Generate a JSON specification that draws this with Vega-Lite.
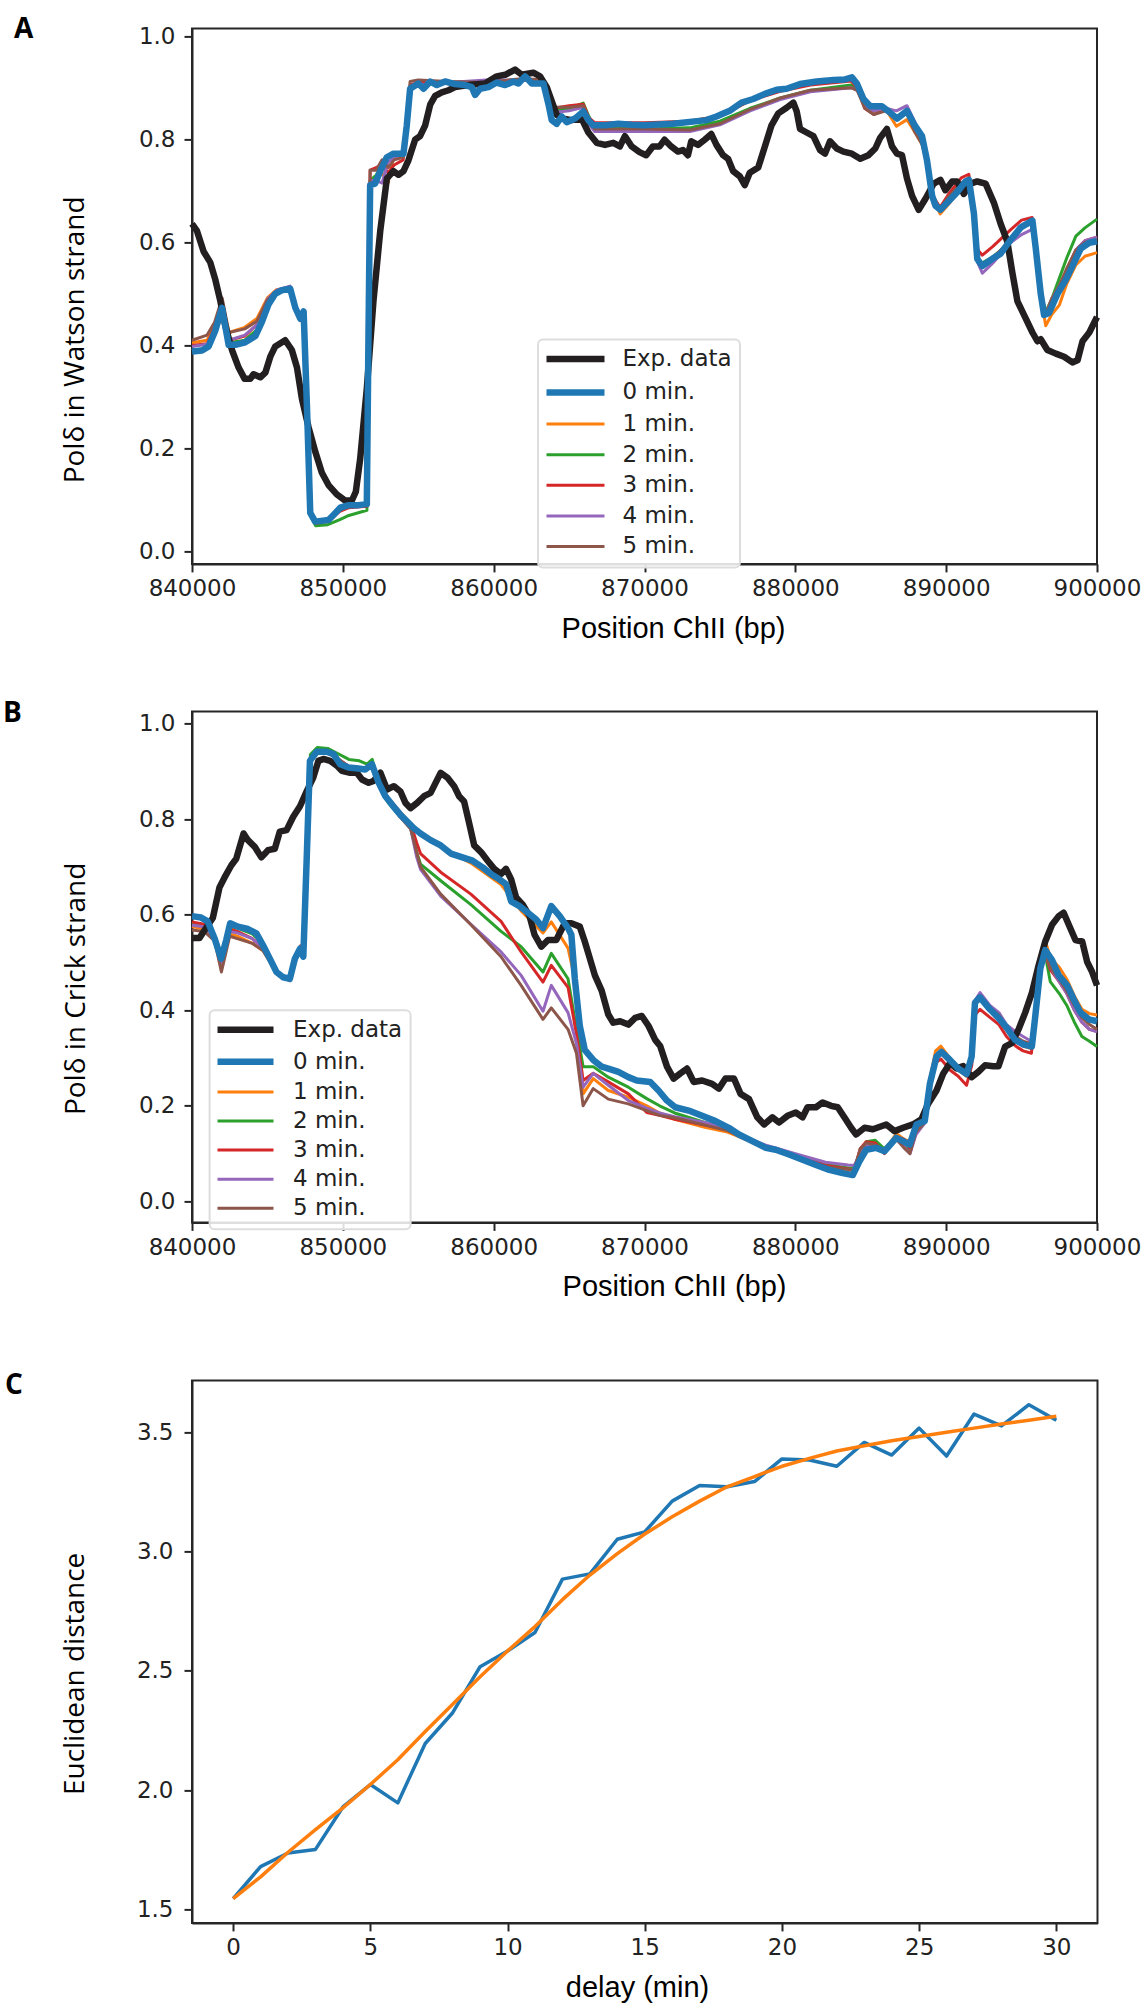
{
"$schema": "https://vega.github.io/schema/vega-lite/v6.json",
"background": "white",
"padding": {"left": 2, "top": 14.4, "right": 5, "bottom": 0},
"config": {
 "view": {"stroke": "#262626", "strokeWidth": 2},
 "axis": {"grid": false, "domainColor": "#262626", "domainWidth": 2, "tickColor": "#262626", "tickWidth": 2, "tickSize": 8, "labelFont": "DejaVu Sans", "labelFontSize": 23, "labelColor": "#222222", "labelFlush": false, "labelOverlap": false, "titleColor": "#000000", "titleFontWeight": "normal"},
 "axisX": {"labelPadding": 6, "titleFont": "Liberation Sans", "titleFontSize": 29, "titleBaseline": "alphabetic", "titleAlign": "center"},
 "axisY": {"labelPadding": 9, "titleFont": "Open Sans", "titleFontSize": 28, "titleBaseline": "middle", "titleAlign": "center", "titleAngle": 270},
 "legend": {"orient": "none", "labelFont": "DejaVu Sans", "labelFontSize": 23, "labelColor": "#222222", "symbolType": "stroke", "strokeColor": "#dddddd", "fillColor": "rgba(255,255,255,0.85)", "cornerRadius": 5, "padding": 8, "symbolOpacity": 1},
 "title": {"font": "Open Sans", "fontSize": 28, "fontWeight": "bold", "color": "#000000", "anchor": "start", "frame": "group", "offset": 0}
},
"datasets": {
"wA": [
{"series":"Exp. data","pos":840000,"val":0.636},{"series":"Exp. data","pos":840330,"val":0.622},{"series":"Exp. data","pos":840770,"val":0.582},{"series":"Exp. data","pos":841210,"val":0.561},{"series":"Exp. data","pos":841550,"val":0.527},{"series":"Exp. data","pos":841880,"val":0.486},{"series":"Exp. data","pos":842200,"val":0.439},{"series":"Exp. data","pos":842650,"val":0.391},{"series":"Exp. data","pos":843090,"val":0.357},{"series":"Exp. data","pos":843490,"val":0.335},{"series":"Exp. data","pos":843860,"val":0.335},{"series":"Exp. data","pos":844080,"val":0.344},{"series":"Exp. data","pos":844530,"val":0.338},{"series":"Exp. data","pos":844860,"val":0.347},{"series":"Exp. data","pos":845190,"val":0.378},{"series":"Exp. data","pos":845520,"val":0.398},{"series":"Exp. data","pos":846180,"val":0.41},{"series":"Exp. data","pos":846620,"val":0.391},{"series":"Exp. data","pos":846960,"val":0.357},{"series":"Exp. data","pos":847290,"val":0.296},{"series":"Exp. data","pos":847730,"val":0.241},{"series":"Exp. data","pos":848170,"val":0.194},{"series":"Exp. data","pos":848610,"val":0.153},{"series":"Exp. data","pos":849050,"val":0.129},{"series":"Exp. data","pos":849600,"val":0.111},{"series":"Exp. data","pos":850160,"val":0.099},{"series":"Exp. data","pos":850600,"val":0.099},{"series":"Exp. data","pos":850860,"val":0.116},{"series":"Exp. data","pos":851150,"val":0.18},{"series":"Exp. data","pos":851590,"val":0.316},{"series":"Exp. data","pos":852030,"val":0.486},{"series":"Exp. data","pos":852480,"val":0.622},{"series":"Exp. data","pos":852920,"val":0.724},{"series":"Exp. data","pos":853360,"val":0.738},{"series":"Exp. data","pos":853690,"val":0.731},{"series":"Exp. data","pos":854020,"val":0.738},{"series":"Exp. data","pos":854350,"val":0.759},{"series":"Exp. data","pos":854790,"val":0.799},{"series":"Exp. data","pos":855120,"val":0.806},{"series":"Exp. data","pos":855460,"val":0.827},{"series":"Exp. data","pos":855790,"val":0.867},{"series":"Exp. data","pos":856120,"val":0.884},{"series":"Exp. data","pos":856560,"val":0.891},{"series":"Exp. data","pos":857010,"val":0.895},{"series":"Exp. data","pos":857440,"val":0.901},{"series":"Exp. data","pos":858330,"val":0.905},{"series":"Exp. data","pos":859430,"val":0.908},{"series":"Exp. data","pos":860200,"val":0.922},{"series":"Exp. data","pos":860760,"val":0.925},{"series":"Exp. data","pos":861420,"val":0.935},{"series":"Exp. data","pos":861860,"val":0.925},{"series":"Exp. data","pos":862630,"val":0.929},{"series":"Exp. data","pos":863070,"val":0.922},{"series":"Exp. data","pos":863520,"val":0.901},{"series":"Exp. data","pos":863850,"val":0.874},{"series":"Exp. data","pos":864180,"val":0.847},{"series":"Exp. data","pos":864620,"val":0.84},{"series":"Exp. data","pos":865170,"val":0.837},{"series":"Exp. data","pos":865830,"val":0.84},{"series":"Exp. data","pos":866280,"val":0.813},{"series":"Exp. data","pos":866830,"val":0.793},{"series":"Exp. data","pos":867380,"val":0.789},{"series":"Exp. data","pos":867930,"val":0.793},{"series":"Exp. data","pos":868370,"val":0.786},{"series":"Exp. data","pos":868700,"val":0.806},{"series":"Exp. data","pos":869150,"val":0.786},{"series":"Exp. data","pos":869670,"val":0.775},{"series":"Exp. data","pos":870110,"val":0.769},{"series":"Exp. data","pos":870550,"val":0.786},{"series":"Exp. data","pos":871000,"val":0.786},{"series":"Exp. data","pos":871330,"val":0.799},{"series":"Exp. data","pos":871770,"val":0.786},{"series":"Exp. data","pos":872220,"val":0.776},{"series":"Exp. data","pos":872550,"val":0.779},{"series":"Exp. data","pos":872880,"val":0.769},{"series":"Exp. data","pos":873100,"val":0.796},{"series":"Exp. data","pos":873550,"val":0.789},{"series":"Exp. data","pos":873990,"val":0.799},{"series":"Exp. data","pos":874430,"val":0.81},{"series":"Exp. data","pos":874770,"val":0.789},{"series":"Exp. data","pos":875210,"val":0.769},{"series":"Exp. data","pos":875540,"val":0.762},{"series":"Exp. data","pos":875880,"val":0.738},{"series":"Exp. data","pos":876320,"val":0.728},{"series":"Exp. data","pos":876650,"val":0.711},{"series":"Exp. data","pos":876980,"val":0.735},{"series":"Exp. data","pos":877540,"val":0.745},{"series":"Exp. data","pos":877980,"val":0.786},{"series":"Exp. data","pos":878420,"val":0.827},{"series":"Exp. data","pos":878870,"val":0.85},{"series":"Exp. data","pos":879420,"val":0.861},{"series":"Exp. data","pos":879870,"val":0.871},{"series":"Exp. data","pos":880090,"val":0.854},{"series":"Exp. data","pos":880310,"val":0.82},{"series":"Exp. data","pos":880750,"val":0.813},{"series":"Exp. data","pos":881200,"val":0.806},{"series":"Exp. data","pos":881640,"val":0.779},{"series":"Exp. data","pos":881970,"val":0.772},{"series":"Exp. data","pos":882300,"val":0.796},{"series":"Exp. data","pos":882750,"val":0.782},{"series":"Exp. data","pos":883190,"val":0.776},{"series":"Exp. data","pos":883750,"val":0.772},{"series":"Exp. data","pos":884300,"val":0.762},{"series":"Exp. data","pos":884850,"val":0.769},{"series":"Exp. data","pos":885300,"val":0.782},{"series":"Exp. data","pos":885630,"val":0.803},{"series":"Exp. data","pos":886070,"val":0.82},{"series":"Exp. data","pos":886410,"val":0.786},{"series":"Exp. data","pos":886740,"val":0.772},{"series":"Exp. data","pos":887070,"val":0.769},{"series":"Exp. data","pos":887400,"val":0.724},{"series":"Exp. data","pos":887740,"val":0.69},{"series":"Exp. data","pos":888180,"val":0.663},{"series":"Exp. data","pos":888620,"val":0.684},{"series":"Exp. data","pos":889180,"val":0.714},{"series":"Exp. data","pos":889620,"val":0.721},{"series":"Exp. data","pos":889950,"val":0.701},{"series":"Exp. data","pos":890400,"val":0.718},{"series":"Exp. data","pos":890730,"val":0.718},{"series":"Exp. data","pos":891170,"val":0.694},{"series":"Exp. data","pos":891620,"val":0.714},{"series":"Exp. data","pos":892060,"val":0.718},{"series":"Exp. data","pos":892610,"val":0.714},{"series":"Exp. data","pos":893160,"val":0.677},{"series":"Exp. data","pos":893610,"val":0.636},{"series":"Exp. data","pos":894050,"val":0.602},{"series":"Exp. data","pos":894390,"val":0.541},{"series":"Exp. data","pos":894720,"val":0.486},{"series":"Exp. data","pos":895160,"val":0.459},{"series":"Exp. data","pos":895720,"val":0.425},{"series":"Exp. data","pos":896050,"val":0.408},{"series":"Exp. data","pos":896270,"val":0.412},{"series":"Exp. data","pos":896710,"val":0.391},{"series":"Exp. data","pos":897270,"val":0.384},{"series":"Exp. data","pos":897820,"val":0.378},{"series":"Exp. data","pos":898370,"val":0.367},{"series":"Exp. data","pos":898710,"val":0.371},{"series":"Exp. data","pos":899040,"val":0.408},{"series":"Exp. data","pos":899490,"val":0.425},{"series":"Exp. data","pos":900000,"val":0.455},
{"series":"0 min.","pos":840000,"val":0.388},{"series":"0 min.","pos":840660,"val":0.39},{"series":"0 min.","pos":841100,"val":0.398},{"series":"0 min.","pos":841550,"val":0.429},{"series":"0 min.","pos":841990,"val":0.473},{"series":"0 min.","pos":842430,"val":0.401},{"series":"0 min.","pos":842870,"val":0.401},{"series":"0 min.","pos":843530,"val":0.406},{"series":"0 min.","pos":844200,"val":0.418},{"series":"0 min.","pos":844640,"val":0.446},{"series":"0 min.","pos":845080,"val":0.48},{"series":"0 min.","pos":845520,"val":0.5},{"series":"0 min.","pos":845960,"val":0.507},{"series":"0 min.","pos":846510,"val":0.51},{"series":"0 min.","pos":846850,"val":0.473},{"series":"0 min.","pos":847180,"val":0.452},{"series":"0 min.","pos":847400,"val":0.466},{"series":"0 min.","pos":847620,"val":0.282},{"series":"0 min.","pos":847840,"val":0.075},{"series":"0 min.","pos":848170,"val":0.058},{"series":"0 min.","pos":849050,"val":0.061},{"series":"0 min.","pos":849380,"val":0.071},{"series":"0 min.","pos":849830,"val":0.085},{"series":"0 min.","pos":850380,"val":0.09},{"series":"0 min.","pos":851040,"val":0.09},{"series":"0 min.","pos":851590,"val":0.092},{"series":"0 min.","pos":851700,"val":0.418},{"series":"0 min.","pos":851810,"val":0.711},{"series":"0 min.","pos":852140,"val":0.714},{"series":"0 min.","pos":852480,"val":0.738},{"series":"0 min.","pos":852920,"val":0.765},{"series":"0 min.","pos":853360,"val":0.772},{"series":"0 min.","pos":854020,"val":0.772},{"series":"0 min.","pos":854240,"val":0.827},{"series":"0 min.","pos":854460,"val":0.898},{"series":"0 min.","pos":855010,"val":0.908},{"series":"0 min.","pos":855350,"val":0.898},{"series":"0 min.","pos":855790,"val":0.912},{"series":"0 min.","pos":856230,"val":0.905},{"series":"0 min.","pos":856780,"val":0.912},{"series":"0 min.","pos":857440,"val":0.907},{"series":"0 min.","pos":858100,"val":0.905},{"series":"0 min.","pos":858550,"val":0.901},{"series":"0 min.","pos":858770,"val":0.886},{"series":"0 min.","pos":859100,"val":0.898},{"series":"0 min.","pos":859650,"val":0.901},{"series":"0 min.","pos":860200,"val":0.91},{"series":"0 min.","pos":860760,"val":0.905},{"series":"0 min.","pos":861310,"val":0.912},{"series":"0 min.","pos":861640,"val":0.908},{"series":"0 min.","pos":862080,"val":0.922},{"series":"0 min.","pos":862530,"val":0.908},{"series":"0 min.","pos":862970,"val":0.908},{"series":"0 min.","pos":863300,"val":0.908},{"series":"0 min.","pos":863640,"val":0.867},{"series":"0 min.","pos":863850,"val":0.837},{"series":"0 min.","pos":864180,"val":0.83},{"series":"0 min.","pos":864510,"val":0.844},{"series":"0 min.","pos":864840,"val":0.833},{"series":"0 min.","pos":865390,"val":0.84},{"series":"0 min.","pos":865940,"val":0.854},{"series":"0 min.","pos":866280,"val":0.837},{"series":"0 min.","pos":866610,"val":0.827},{"series":"0 min.","pos":867380,"val":0.827},{"series":"0 min.","pos":868260,"val":0.83},{"series":"0 min.","pos":869150,"val":0.828},{"series":"0 min.","pos":869920,"val":0.827},{"series":"0 min.","pos":871880,"val":0.83},{"series":"0 min.","pos":874100,"val":0.837},{"series":"0 min.","pos":874770,"val":0.844},{"series":"0 min.","pos":875650,"val":0.855},{"series":"0 min.","pos":876430,"val":0.871},{"series":"0 min.","pos":877210,"val":0.878},{"series":"0 min.","pos":877980,"val":0.888},{"series":"0 min.","pos":878760,"val":0.896},{"series":"0 min.","pos":879420,"val":0.898},{"series":"0 min.","pos":880310,"val":0.907},{"series":"0 min.","pos":881420,"val":0.912},{"series":"0 min.","pos":882530,"val":0.915},{"series":"0 min.","pos":883300,"val":0.916},{"series":"0 min.","pos":883750,"val":0.92},{"series":"0 min.","pos":884080,"val":0.908},{"series":"0 min.","pos":884520,"val":0.878},{"series":"0 min.","pos":884970,"val":0.864},{"series":"0 min.","pos":885740,"val":0.864},{"series":"0 min.","pos":886180,"val":0.854},{"series":"0 min.","pos":886740,"val":0.84},{"series":"0 min.","pos":887400,"val":0.855},{"series":"0 min.","pos":887850,"val":0.83},{"series":"0 min.","pos":888400,"val":0.806},{"series":"0 min.","pos":888730,"val":0.759},{"series":"0 min.","pos":889070,"val":0.69},{"series":"0 min.","pos":889290,"val":0.671},{"series":"0 min.","pos":889620,"val":0.663},{"series":"0 min.","pos":890180,"val":0.68},{"series":"0 min.","pos":890730,"val":0.697},{"series":"0 min.","pos":891280,"val":0.718},{"series":"0 min.","pos":891510,"val":0.721},{"series":"0 min.","pos":891840,"val":0.656},{"series":"0 min.","pos":892060,"val":0.568},{"series":"0 min.","pos":892390,"val":0.554},{"series":"0 min.","pos":893060,"val":0.568},{"series":"0 min.","pos":893610,"val":0.578},{"series":"0 min.","pos":894280,"val":0.605},{"series":"0 min.","pos":894950,"val":0.629},{"series":"0 min.","pos":895720,"val":0.642},{"series":"0 min.","pos":895940,"val":0.588},{"series":"0 min.","pos":896270,"val":0.5},{"series":"0 min.","pos":896490,"val":0.459},{"series":"0 min.","pos":896820,"val":0.463},{"series":"0 min.","pos":897380,"val":0.5},{"series":"0 min.","pos":897930,"val":0.527},{"series":"0 min.","pos":898490,"val":0.561},{"series":"0 min.","pos":898930,"val":0.588},{"series":"0 min.","pos":899490,"val":0.599},{"series":"0 min.","pos":900000,"val":0.602},
{"series":"1 min.","pos":840000,"val":0.405},{"series":"1 min.","pos":841000,"val":0.41},{"series":"1 min.","pos":841500,"val":0.44},{"series":"1 min.","pos":842000,"val":0.485},{"series":"1 min.","pos":842450,"val":0.425},{"series":"1 min.","pos":843500,"val":0.435},{"series":"1 min.","pos":844300,"val":0.452},{"series":"1 min.","pos":845000,"val":0.492},{"series":"1 min.","pos":845600,"val":0.508},{"series":"1 min.","pos":846500,"val":0.513},{"series":"1 min.","pos":846850,"val":0.474},{"series":"1 min.","pos":847180,"val":0.452},{"series":"1 min.","pos":847400,"val":0.466},{"series":"1 min.","pos":847620,"val":0.28},{"series":"1 min.","pos":847840,"val":0.075},{"series":"1 min.","pos":848200,"val":0.058},{"series":"1 min.","pos":849000,"val":0.06},{"series":"1 min.","pos":849800,"val":0.082},{"series":"1 min.","pos":850400,"val":0.088},{"series":"1 min.","pos":851600,"val":0.09},{"series":"1 min.","pos":851700,"val":0.42},{"series":"1 min.","pos":851810,"val":0.715},{"series":"1 min.","pos":852200,"val":0.718},{"series":"1 min.","pos":852600,"val":0.735},{"series":"1 min.","pos":853000,"val":0.715},{"series":"1 min.","pos":853400,"val":0.77},{"series":"1 min.","pos":854000,"val":0.772},{"series":"1 min.","pos":854240,"val":0.83},{"series":"1 min.","pos":854460,"val":0.9},{"series":"1 min.","pos":855000,"val":0.91},{"series":"1 min.","pos":857000,"val":0.908},{"series":"1 min.","pos":859500,"val":0.905},{"series":"1 min.","pos":862000,"val":0.915},{"series":"1 min.","pos":863300,"val":0.91},{"series":"1 min.","pos":863640,"val":0.872},{"series":"1 min.","pos":864000,"val":0.855},{"series":"1 min.","pos":865000,"val":0.86},{"series":"1 min.","pos":865940,"val":0.865},{"series":"1 min.","pos":866300,"val":0.84},{"series":"1 min.","pos":866700,"val":0.83},{"series":"1 min.","pos":870000,"val":0.83},{"series":"1 min.","pos":873000,"val":0.835},{"series":"1 min.","pos":875000,"val":0.845},{"series":"1 min.","pos":877000,"val":0.875},{"series":"1 min.","pos":879000,"val":0.895},{"series":"1 min.","pos":881000,"val":0.908},{"series":"1 min.","pos":883700,"val":0.918},{"series":"1 min.","pos":884100,"val":0.905},{"series":"1 min.","pos":884600,"val":0.872},{"series":"1 min.","pos":885200,"val":0.86},{"series":"1 min.","pos":886000,"val":0.858},{"series":"1 min.","pos":886700,"val":0.825},{"series":"1 min.","pos":887400,"val":0.838},{"series":"1 min.","pos":887900,"val":0.815},{"series":"1 min.","pos":888400,"val":0.79},{"series":"1 min.","pos":888750,"val":0.752},{"series":"1 min.","pos":889100,"val":0.685},{"series":"1 min.","pos":889600,"val":0.655},{"series":"1 min.","pos":890200,"val":0.675},{"series":"1 min.","pos":891000,"val":0.708},{"series":"1 min.","pos":891500,"val":0.72},{"series":"1 min.","pos":891840,"val":0.655},{"series":"1 min.","pos":892100,"val":0.565},{"series":"1 min.","pos":892400,"val":0.553},{"series":"1 min.","pos":893100,"val":0.568},{"series":"1 min.","pos":894300,"val":0.605},{"series":"1 min.","pos":895000,"val":0.632},{"series":"1 min.","pos":895700,"val":0.64},{"series":"1 min.","pos":895950,"val":0.585},{"series":"1 min.","pos":896300,"val":0.49},{"series":"1 min.","pos":896600,"val":0.438},{"series":"1 min.","pos":897000,"val":0.46},{"series":"1 min.","pos":897500,"val":0.478},{"series":"1 min.","pos":898000,"val":0.52},{"series":"1 min.","pos":898600,"val":0.556},{"series":"1 min.","pos":899200,"val":0.573},{"series":"1 min.","pos":900000,"val":0.58},
{"series":"2 min.","pos":840000,"val":0.39},{"series":"2 min.","pos":841000,"val":0.395},{"series":"2 min.","pos":841500,"val":0.43},{"series":"2 min.","pos":842000,"val":0.478},{"series":"2 min.","pos":842450,"val":0.405},{"series":"2 min.","pos":843500,"val":0.41},{"series":"2 min.","pos":844300,"val":0.43},{"series":"2 min.","pos":845000,"val":0.485},{"series":"2 min.","pos":845600,"val":0.503},{"series":"2 min.","pos":846500,"val":0.512},{"series":"2 min.","pos":846850,"val":0.473},{"series":"2 min.","pos":847180,"val":0.452},{"series":"2 min.","pos":847400,"val":0.466},{"series":"2 min.","pos":847620,"val":0.28},{"series":"2 min.","pos":847840,"val":0.07},{"series":"2 min.","pos":848200,"val":0.05},{"series":"2 min.","pos":849000,"val":0.052},{"series":"2 min.","pos":849800,"val":0.062},{"series":"2 min.","pos":850400,"val":0.07},{"series":"2 min.","pos":851600,"val":0.08},{"series":"2 min.","pos":851700,"val":0.42},{"series":"2 min.","pos":851810,"val":0.72},{"series":"2 min.","pos":852200,"val":0.73},{"series":"2 min.","pos":852600,"val":0.75},{"series":"2 min.","pos":853000,"val":0.765},{"series":"2 min.","pos":853400,"val":0.77},{"series":"2 min.","pos":854000,"val":0.772},{"series":"2 min.","pos":854240,"val":0.83},{"series":"2 min.","pos":854460,"val":0.9},{"series":"2 min.","pos":855000,"val":0.91},{"series":"2 min.","pos":857000,"val":0.91},{"series":"2 min.","pos":859500,"val":0.912},{"series":"2 min.","pos":862000,"val":0.915},{"series":"2 min.","pos":863300,"val":0.91},{"series":"2 min.","pos":863640,"val":0.872},{"series":"2 min.","pos":864000,"val":0.855},{"series":"2 min.","pos":865000,"val":0.86},{"series":"2 min.","pos":865940,"val":0.87},{"series":"2 min.","pos":866300,"val":0.845},{"series":"2 min.","pos":866700,"val":0.822},{"series":"2 min.","pos":870000,"val":0.82},{"series":"2 min.","pos":873000,"val":0.822},{"series":"2 min.","pos":875000,"val":0.835},{"series":"2 min.","pos":877000,"val":0.86},{"series":"2 min.","pos":879000,"val":0.88},{"series":"2 min.","pos":881000,"val":0.895},{"series":"2 min.","pos":883700,"val":0.905},{"series":"2 min.","pos":884100,"val":0.9},{"series":"2 min.","pos":884600,"val":0.865},{"series":"2 min.","pos":885200,"val":0.855},{"series":"2 min.","pos":886000,"val":0.86},{"series":"2 min.","pos":886700,"val":0.84},{"series":"2 min.","pos":887400,"val":0.858},{"series":"2 min.","pos":887900,"val":0.83},{"series":"2 min.","pos":888400,"val":0.8},{"series":"2 min.","pos":888750,"val":0.765},{"series":"2 min.","pos":889100,"val":0.69},{"series":"2 min.","pos":889600,"val":0.665},{"series":"2 min.","pos":890200,"val":0.685},{"series":"2 min.","pos":891000,"val":0.71},{"series":"2 min.","pos":891500,"val":0.725},{"series":"2 min.","pos":891840,"val":0.66},{"series":"2 min.","pos":892100,"val":0.565},{"series":"2 min.","pos":892400,"val":0.56},{"series":"2 min.","pos":893100,"val":0.572},{"series":"2 min.","pos":894300,"val":0.6},{"series":"2 min.","pos":895000,"val":0.63},{"series":"2 min.","pos":895700,"val":0.64},{"series":"2 min.","pos":895950,"val":0.585},{"series":"2 min.","pos":896300,"val":0.5},{"series":"2 min.","pos":896600,"val":0.465},{"series":"2 min.","pos":897000,"val":0.49},{"series":"2 min.","pos":897500,"val":0.53},{"series":"2 min.","pos":898000,"val":0.57},{"series":"2 min.","pos":898600,"val":0.612},{"series":"2 min.","pos":899200,"val":0.628},{"series":"2 min.","pos":900000,"val":0.645},
{"series":"3 min.","pos":840000,"val":0.4},{"series":"3 min.","pos":841000,"val":0.403},{"series":"3 min.","pos":841500,"val":0.435},{"series":"3 min.","pos":842000,"val":0.48},{"series":"3 min.","pos":842450,"val":0.41},{"series":"3 min.","pos":843500,"val":0.418},{"series":"3 min.","pos":844300,"val":0.44},{"series":"3 min.","pos":845000,"val":0.488},{"series":"3 min.","pos":845600,"val":0.505},{"series":"3 min.","pos":846500,"val":0.512},{"series":"3 min.","pos":846850,"val":0.47},{"series":"3 min.","pos":847180,"val":0.448},{"series":"3 min.","pos":847400,"val":0.462},{"series":"3 min.","pos":847620,"val":0.28},{"series":"3 min.","pos":847840,"val":0.072},{"series":"3 min.","pos":848200,"val":0.055},{"series":"3 min.","pos":849000,"val":0.058},{"series":"3 min.","pos":849800,"val":0.078},{"series":"3 min.","pos":850400,"val":0.085},{"series":"3 min.","pos":851600,"val":0.088},{"series":"3 min.","pos":851700,"val":0.42},{"series":"3 min.","pos":851810,"val":0.74},{"series":"3 min.","pos":852200,"val":0.745},{"series":"3 min.","pos":852600,"val":0.75},{"series":"3 min.","pos":853000,"val":0.735},{"series":"3 min.","pos":853400,"val":0.75},{"series":"3 min.","pos":854000,"val":0.76},{"series":"3 min.","pos":854240,"val":0.83},{"series":"3 min.","pos":854460,"val":0.905},{"series":"3 min.","pos":855000,"val":0.91},{"series":"3 min.","pos":857000,"val":0.91},{"series":"3 min.","pos":859500,"val":0.905},{"series":"3 min.","pos":862000,"val":0.915},{"series":"3 min.","pos":863300,"val":0.91},{"series":"3 min.","pos":863640,"val":0.872},{"series":"3 min.","pos":864000,"val":0.86},{"series":"3 min.","pos":865000,"val":0.865},{"series":"3 min.","pos":865940,"val":0.868},{"series":"3 min.","pos":866300,"val":0.842},{"series":"3 min.","pos":866700,"val":0.832},{"series":"3 min.","pos":870000,"val":0.832},{"series":"3 min.","pos":873000,"val":0.835},{"series":"3 min.","pos":875000,"val":0.845},{"series":"3 min.","pos":877000,"val":0.875},{"series":"3 min.","pos":879000,"val":0.893},{"series":"3 min.","pos":881000,"val":0.905},{"series":"3 min.","pos":883700,"val":0.913},{"series":"3 min.","pos":884100,"val":0.9},{"series":"3 min.","pos":884600,"val":0.86},{"series":"3 min.","pos":885200,"val":0.848},{"series":"3 min.","pos":886000,"val":0.858},{"series":"3 min.","pos":886700,"val":0.84},{"series":"3 min.","pos":887400,"val":0.858},{"series":"3 min.","pos":887900,"val":0.83},{"series":"3 min.","pos":888400,"val":0.8},{"series":"3 min.","pos":888750,"val":0.755},{"series":"3 min.","pos":889100,"val":0.69},{"series":"3 min.","pos":889600,"val":0.668},{"series":"3 min.","pos":890200,"val":0.695},{"series":"3 min.","pos":891000,"val":0.725},{"series":"3 min.","pos":891500,"val":0.732},{"series":"3 min.","pos":891840,"val":0.665},{"series":"3 min.","pos":892100,"val":0.585},{"series":"3 min.","pos":892400,"val":0.575},{"series":"3 min.","pos":893100,"val":0.592},{"series":"3 min.","pos":894300,"val":0.625},{"series":"3 min.","pos":895000,"val":0.643},{"series":"3 min.","pos":895700,"val":0.648},{"series":"3 min.","pos":895950,"val":0.59},{"series":"3 min.","pos":896300,"val":0.5},{"series":"3 min.","pos":896600,"val":0.458},{"series":"3 min.","pos":897000,"val":0.49},{"series":"3 min.","pos":897500,"val":0.515},{"series":"3 min.","pos":898000,"val":0.545},{"series":"3 min.","pos":898600,"val":0.585},{"series":"3 min.","pos":899200,"val":0.603},{"series":"3 min.","pos":900000,"val":0.61},
{"series":"4 min.","pos":840000,"val":0.398},{"series":"4 min.","pos":841000,"val":0.402},{"series":"4 min.","pos":841500,"val":0.43},{"series":"4 min.","pos":842000,"val":0.475},{"series":"4 min.","pos":842450,"val":0.41},{"series":"4 min.","pos":843500,"val":0.42},{"series":"4 min.","pos":844300,"val":0.44},{"series":"4 min.","pos":845000,"val":0.49},{"series":"4 min.","pos":845600,"val":0.507},{"series":"4 min.","pos":846500,"val":0.515},{"series":"4 min.","pos":846850,"val":0.473},{"series":"4 min.","pos":847180,"val":0.452},{"series":"4 min.","pos":847400,"val":0.466},{"series":"4 min.","pos":847620,"val":0.28},{"series":"4 min.","pos":847840,"val":0.075},{"series":"4 min.","pos":848200,"val":0.058},{"series":"4 min.","pos":849000,"val":0.06},{"series":"4 min.","pos":849800,"val":0.082},{"series":"4 min.","pos":850400,"val":0.088},{"series":"4 min.","pos":851600,"val":0.09},{"series":"4 min.","pos":851700,"val":0.42},{"series":"4 min.","pos":851810,"val":0.72},{"series":"4 min.","pos":852200,"val":0.72},{"series":"4 min.","pos":852600,"val":0.715},{"series":"4 min.","pos":853000,"val":0.755},{"series":"4 min.","pos":853400,"val":0.765},{"series":"4 min.","pos":854000,"val":0.77},{"series":"4 min.","pos":854240,"val":0.83},{"series":"4 min.","pos":854460,"val":0.9},{"series":"4 min.","pos":855000,"val":0.905},{"series":"4 min.","pos":857000,"val":0.91},{"series":"4 min.","pos":859500,"val":0.915},{"series":"4 min.","pos":862000,"val":0.915},{"series":"4 min.","pos":863300,"val":0.915},{"series":"4 min.","pos":863640,"val":0.87},{"series":"4 min.","pos":864000,"val":0.852},{"series":"4 min.","pos":865000,"val":0.855},{"series":"4 min.","pos":865940,"val":0.862},{"series":"4 min.","pos":866300,"val":0.83},{"series":"4 min.","pos":866700,"val":0.815},{"series":"4 min.","pos":870000,"val":0.815},{"series":"4 min.","pos":873000,"val":0.815},{"series":"4 min.","pos":875000,"val":0.828},{"series":"4 min.","pos":877000,"val":0.855},{"series":"4 min.","pos":879000,"val":0.877},{"series":"4 min.","pos":881000,"val":0.892},{"series":"4 min.","pos":883700,"val":0.9},{"series":"4 min.","pos":884100,"val":0.895},{"series":"4 min.","pos":884600,"val":0.865},{"series":"4 min.","pos":885200,"val":0.855},{"series":"4 min.","pos":886000,"val":0.86},{"series":"4 min.","pos":886700,"val":0.855},{"series":"4 min.","pos":887400,"val":0.865},{"series":"4 min.","pos":887900,"val":0.835},{"series":"4 min.","pos":888400,"val":0.8},{"series":"4 min.","pos":888750,"val":0.765},{"series":"4 min.","pos":889100,"val":0.69},{"series":"4 min.","pos":889600,"val":0.665},{"series":"4 min.","pos":890200,"val":0.685},{"series":"4 min.","pos":891000,"val":0.71},{"series":"4 min.","pos":891500,"val":0.72},{"series":"4 min.","pos":891840,"val":0.655},{"series":"4 min.","pos":892100,"val":0.56},{"series":"4 min.","pos":892400,"val":0.54},{"series":"4 min.","pos":893100,"val":0.56},{"series":"4 min.","pos":894300,"val":0.6},{"series":"4 min.","pos":895000,"val":0.615},{"series":"4 min.","pos":895700,"val":0.625},{"series":"4 min.","pos":895950,"val":0.585},{"series":"4 min.","pos":896300,"val":0.5},{"series":"4 min.","pos":896600,"val":0.46},{"series":"4 min.","pos":897000,"val":0.49},{"series":"4 min.","pos":897500,"val":0.515},{"series":"4 min.","pos":898000,"val":0.545},{"series":"4 min.","pos":898600,"val":0.585},{"series":"4 min.","pos":899200,"val":0.603},{"series":"4 min.","pos":900000,"val":0.61},
{"series":"5 min.","pos":840000,"val":0.41},{"series":"5 min.","pos":841000,"val":0.42},{"series":"5 min.","pos":841500,"val":0.445},{"series":"5 min.","pos":842000,"val":0.492},{"series":"5 min.","pos":842450,"val":0.425},{"series":"5 min.","pos":843500,"val":0.432},{"series":"5 min.","pos":844300,"val":0.447},{"series":"5 min.","pos":845000,"val":0.488},{"series":"5 min.","pos":845600,"val":0.505},{"series":"5 min.","pos":846500,"val":0.512},{"series":"5 min.","pos":846850,"val":0.473},{"series":"5 min.","pos":847180,"val":0.452},{"series":"5 min.","pos":847400,"val":0.466},{"series":"5 min.","pos":847620,"val":0.28},{"series":"5 min.","pos":847840,"val":0.075},{"series":"5 min.","pos":848200,"val":0.058},{"series":"5 min.","pos":849000,"val":0.06},{"series":"5 min.","pos":849800,"val":0.08},{"series":"5 min.","pos":850400,"val":0.088},{"series":"5 min.","pos":851600,"val":0.09},{"series":"5 min.","pos":851700,"val":0.42},{"series":"5 min.","pos":851810,"val":0.74},{"series":"5 min.","pos":852200,"val":0.74},{"series":"5 min.","pos":852600,"val":0.76},{"series":"5 min.","pos":853000,"val":0.745},{"series":"5 min.","pos":853400,"val":0.76},{"series":"5 min.","pos":854000,"val":0.765},{"series":"5 min.","pos":854240,"val":0.83},{"series":"5 min.","pos":854460,"val":0.912},{"series":"5 min.","pos":855000,"val":0.915},{"series":"5 min.","pos":857000,"val":0.912},{"series":"5 min.","pos":859500,"val":0.91},{"series":"5 min.","pos":862000,"val":0.918},{"series":"5 min.","pos":863300,"val":0.915},{"series":"5 min.","pos":863640,"val":0.875},{"series":"5 min.","pos":864000,"val":0.862},{"series":"5 min.","pos":865000,"val":0.862},{"series":"5 min.","pos":865940,"val":0.865},{"series":"5 min.","pos":866300,"val":0.835},{"series":"5 min.","pos":866700,"val":0.82},{"series":"5 min.","pos":870000,"val":0.82},{"series":"5 min.","pos":873000,"val":0.818},{"series":"5 min.","pos":875000,"val":0.83},{"series":"5 min.","pos":877000,"val":0.858},{"series":"5 min.","pos":879000,"val":0.88},{"series":"5 min.","pos":881000,"val":0.895},{"series":"5 min.","pos":883700,"val":0.9},{"series":"5 min.","pos":884100,"val":0.895},{"series":"5 min.","pos":884600,"val":0.86},{"series":"5 min.","pos":885200,"val":0.848},{"series":"5 min.","pos":886000,"val":0.855},{"series":"5 min.","pos":886700,"val":0.84},{"series":"5 min.","pos":887400,"val":0.85},{"series":"5 min.","pos":887900,"val":0.815},{"series":"5 min.","pos":888400,"val":0.79},{"series":"5 min.","pos":888750,"val":0.76},{"series":"5 min.","pos":889100,"val":0.69},{"series":"5 min.","pos":889600,"val":0.665},{"series":"5 min.","pos":890200,"val":0.69},{"series":"5 min.","pos":891000,"val":0.715},{"series":"5 min.","pos":891500,"val":0.725},{"series":"5 min.","pos":891840,"val":0.66},{"series":"5 min.","pos":892100,"val":0.568},{"series":"5 min.","pos":892400,"val":0.555},{"series":"5 min.","pos":893100,"val":0.57},{"series":"5 min.","pos":894300,"val":0.605},{"series":"5 min.","pos":895000,"val":0.63},{"series":"5 min.","pos":895700,"val":0.64},{"series":"5 min.","pos":895950,"val":0.585},{"series":"5 min.","pos":896300,"val":0.5},{"series":"5 min.","pos":896600,"val":0.46},{"series":"5 min.","pos":897000,"val":0.49},{"series":"5 min.","pos":897500,"val":0.515},{"series":"5 min.","pos":898000,"val":0.55},{"series":"5 min.","pos":898600,"val":0.585},{"series":"5 min.","pos":899200,"val":0.6},{"series":"5 min.","pos":900000,"val":0.605}
],
"cB": [
{"series":"Exp. data","pos":840000,"val":0.551},{"series":"Exp. data","pos":840490,"val":0.551},{"series":"Exp. data","pos":840930,"val":0.572},{"series":"Exp. data","pos":841380,"val":0.593},{"series":"Exp. data","pos":841820,"val":0.657},{"series":"Exp. data","pos":842160,"val":0.678},{"series":"Exp. data","pos":842600,"val":0.703},{"series":"Exp. data","pos":842930,"val":0.717},{"series":"Exp. data","pos":843420,"val":0.77},{"series":"Exp. data","pos":843710,"val":0.756},{"series":"Exp. data","pos":844160,"val":0.742},{"series":"Exp. data","pos":844600,"val":0.72},{"series":"Exp. data","pos":845040,"val":0.735},{"series":"Exp. data","pos":845490,"val":0.738},{"series":"Exp. data","pos":845820,"val":0.774},{"series":"Exp. data","pos":846270,"val":0.777},{"series":"Exp. data","pos":846710,"val":0.805},{"series":"Exp. data","pos":847160,"val":0.827},{"series":"Exp. data","pos":847600,"val":0.858},{"series":"Exp. data","pos":848040,"val":0.887},{"series":"Exp. data","pos":848380,"val":0.922},{"series":"Exp. data","pos":848710,"val":0.926},{"series":"Exp. data","pos":849160,"val":0.922},{"series":"Exp. data","pos":849600,"val":0.912},{"series":"Exp. data","pos":849930,"val":0.901},{"series":"Exp. data","pos":850490,"val":0.897},{"series":"Exp. data","pos":850930,"val":0.897},{"series":"Exp. data","pos":851270,"val":0.883},{"series":"Exp. data","pos":851710,"val":0.876},{"series":"Exp. data","pos":852040,"val":0.88},{"series":"Exp. data","pos":852490,"val":0.897},{"series":"Exp. data","pos":852930,"val":0.862},{"series":"Exp. data","pos":853380,"val":0.869},{"series":"Exp. data","pos":853820,"val":0.858},{"series":"Exp. data","pos":854150,"val":0.834},{"series":"Exp. data","pos":854490,"val":0.823},{"series":"Exp. data","pos":854930,"val":0.834},{"series":"Exp. data","pos":855380,"val":0.848},{"series":"Exp. data","pos":855820,"val":0.855},{"series":"Exp. data","pos":856150,"val":0.876},{"series":"Exp. data","pos":856490,"val":0.897},{"series":"Exp. data","pos":856930,"val":0.887},{"series":"Exp. data","pos":857380,"val":0.869},{"series":"Exp. data","pos":857710,"val":0.848},{"series":"Exp. data","pos":858040,"val":0.837},{"series":"Exp. data","pos":858380,"val":0.791},{"series":"Exp. data","pos":858710,"val":0.745},{"series":"Exp. data","pos":859160,"val":0.731},{"series":"Exp. data","pos":859600,"val":0.713},{"series":"Exp. data","pos":860040,"val":0.696},{"series":"Exp. data","pos":860490,"val":0.685},{"series":"Exp. data","pos":860820,"val":0.696},{"series":"Exp. data","pos":861160,"val":0.674},{"series":"Exp. data","pos":861490,"val":0.636},{"series":"Exp. data","pos":861930,"val":0.621},{"series":"Exp. data","pos":862380,"val":0.597},{"series":"Exp. data","pos":862710,"val":0.558},{"series":"Exp. data","pos":863160,"val":0.533},{"series":"Exp. data","pos":863600,"val":0.547},{"series":"Exp. data","pos":864150,"val":0.547},{"series":"Exp. data","pos":864710,"val":0.582},{"series":"Exp. data","pos":865150,"val":0.582},{"series":"Exp. data","pos":865710,"val":0.575},{"series":"Exp. data","pos":866040,"val":0.544},{"series":"Exp. data","pos":866380,"val":0.508},{"series":"Exp. data","pos":866710,"val":0.473},{"series":"Exp. data","pos":867160,"val":0.441},{"series":"Exp. data","pos":867600,"val":0.391},{"series":"Exp. data","pos":867930,"val":0.374},{"series":"Exp. data","pos":868380,"val":0.377},{"series":"Exp. data","pos":868930,"val":0.37},{"series":"Exp. data","pos":869380,"val":0.384},{"series":"Exp. data","pos":869820,"val":0.388},{"series":"Exp. data","pos":870270,"val":0.367},{"series":"Exp. data","pos":870710,"val":0.338},{"series":"Exp. data","pos":871040,"val":0.325},{"series":"Exp. data","pos":871490,"val":0.282},{"series":"Exp. data","pos":871930,"val":0.257},{"series":"Exp. data","pos":872380,"val":0.268},{"series":"Exp. data","pos":872820,"val":0.278},{"series":"Exp. data","pos":873260,"val":0.25},{"series":"Exp. data","pos":873820,"val":0.253},{"series":"Exp. data","pos":874480,"val":0.246},{"series":"Exp. data","pos":874930,"val":0.236},{"series":"Exp. data","pos":875370,"val":0.257},{"series":"Exp. data","pos":875930,"val":0.257},{"series":"Exp. data","pos":876370,"val":0.225},{"series":"Exp. data","pos":876930,"val":0.214},{"series":"Exp. data","pos":877480,"val":0.176},{"series":"Exp. data","pos":877930,"val":0.161},{"series":"Exp. data","pos":878480,"val":0.176},{"series":"Exp. data","pos":878920,"val":0.165},{"series":"Exp. data","pos":879480,"val":0.179},{"series":"Exp. data","pos":880030,"val":0.186},{"series":"Exp. data","pos":880480,"val":0.176},{"series":"Exp. data","pos":880810,"val":0.197},{"series":"Exp. data","pos":881370,"val":0.197},{"series":"Exp. data","pos":881810,"val":0.207},{"series":"Exp. data","pos":882370,"val":0.2},{"series":"Exp. data","pos":882810,"val":0.197},{"series":"Exp. data","pos":883250,"val":0.176},{"series":"Exp. data","pos":883700,"val":0.154},{"series":"Exp. data","pos":884030,"val":0.14},{"series":"Exp. data","pos":884590,"val":0.154},{"series":"Exp. data","pos":885140,"val":0.151},{"series":"Exp. data","pos":886030,"val":0.161},{"series":"Exp. data","pos":886580,"val":0.147},{"series":"Exp. data","pos":887140,"val":0.154},{"series":"Exp. data","pos":887800,"val":0.161},{"series":"Exp. data","pos":888360,"val":0.172},{"series":"Exp. data","pos":888800,"val":0.204},{"series":"Exp. data","pos":889360,"val":0.232},{"series":"Exp. data","pos":889800,"val":0.267},{"series":"Exp. data","pos":890250,"val":0.289},{"series":"Exp. data","pos":890690,"val":0.278},{"series":"Exp. data","pos":891130,"val":0.283},{"series":"Exp. data","pos":891690,"val":0.26},{"series":"Exp. data","pos":892130,"val":0.271},{"series":"Exp. data","pos":892580,"val":0.285},{"series":"Exp. data","pos":893130,"val":0.283},{"series":"Exp. data","pos":893470,"val":0.283},{"series":"Exp. data","pos":893910,"val":0.324},{"series":"Exp. data","pos":894350,"val":0.331},{"series":"Exp. data","pos":894800,"val":0.36},{"series":"Exp. data","pos":895240,"val":0.395},{"series":"Exp. data","pos":895690,"val":0.437},{"series":"Exp. data","pos":896130,"val":0.494},{"series":"Exp. data","pos":896570,"val":0.544},{"series":"Exp. data","pos":897020,"val":0.579},{"series":"Exp. data","pos":897460,"val":0.597},{"series":"Exp. data","pos":897790,"val":0.604},{"series":"Exp. data","pos":898130,"val":0.579},{"series":"Exp. data","pos":898570,"val":0.547},{"series":"Exp. data","pos":899020,"val":0.544},{"series":"Exp. data","pos":899350,"val":0.501},{"series":"Exp. data","pos":899680,"val":0.48},{"series":"Exp. data","pos":900000,"val":0.452},
{"series":"0 min.","pos":840000,"val":0.597},{"series":"0 min.","pos":840600,"val":0.594},{"series":"0 min.","pos":841040,"val":0.586},{"series":"0 min.","pos":841490,"val":0.551},{"series":"0 min.","pos":841930,"val":0.508},{"series":"0 min.","pos":842270,"val":0.547},{"series":"0 min.","pos":842530,"val":0.582},{"series":"0 min.","pos":843040,"val":0.575},{"series":"0 min.","pos":843710,"val":0.57},{"series":"0 min.","pos":844270,"val":0.561},{"series":"0 min.","pos":844710,"val":0.536},{"series":"0 min.","pos":845160,"val":0.508},{"series":"0 min.","pos":845600,"val":0.48},{"series":"0 min.","pos":846040,"val":0.469},{"series":"0 min.","pos":846490,"val":0.466},{"series":"0 min.","pos":846820,"val":0.508},{"series":"0 min.","pos":847160,"val":0.529},{"series":"0 min.","pos":847380,"val":0.512},{"series":"0 min.","pos":847600,"val":0.713},{"series":"0 min.","pos":847820,"val":0.922},{"series":"0 min.","pos":848270,"val":0.941},{"series":"0 min.","pos":848930,"val":0.941},{"series":"0 min.","pos":849380,"val":0.936},{"series":"0 min.","pos":849820,"val":0.915},{"series":"0 min.","pos":850380,"val":0.908},{"series":"0 min.","pos":851040,"val":0.906},{"series":"0 min.","pos":851490,"val":0.904},{"series":"0 min.","pos":851930,"val":0.915},{"series":"0 min.","pos":852380,"val":0.876},{"series":"0 min.","pos":852820,"val":0.848},{"series":"0 min.","pos":853270,"val":0.83},{"series":"0 min.","pos":853820,"val":0.809},{"series":"0 min.","pos":854270,"val":0.795},{"series":"0 min.","pos":854710,"val":0.781},{"series":"0 min.","pos":855150,"val":0.77},{"series":"0 min.","pos":855820,"val":0.756},{"series":"0 min.","pos":856490,"val":0.745},{"series":"0 min.","pos":857160,"val":0.728},{"series":"0 min.","pos":857930,"val":0.72},{"series":"0 min.","pos":858600,"val":0.713},{"series":"0 min.","pos":859270,"val":0.699},{"series":"0 min.","pos":859820,"val":0.685},{"series":"0 min.","pos":860380,"val":0.674},{"series":"0 min.","pos":860820,"val":0.664},{"series":"0 min.","pos":861160,"val":0.628},{"series":"0 min.","pos":861710,"val":0.618},{"series":"0 min.","pos":862270,"val":0.604},{"series":"0 min.","pos":862820,"val":0.59},{"series":"0 min.","pos":863270,"val":0.572},{"series":"0 min.","pos":863820,"val":0.618},{"series":"0 min.","pos":864380,"val":0.597},{"series":"0 min.","pos":864930,"val":0.572},{"series":"0 min.","pos":865150,"val":0.558},{"series":"0 min.","pos":865380,"val":0.466},{"series":"0 min.","pos":865710,"val":0.367},{"series":"0 min.","pos":866040,"val":0.317},{"series":"0 min.","pos":866600,"val":0.296},{"series":"0 min.","pos":867160,"val":0.282},{"series":"0 min.","pos":867600,"val":0.278},{"series":"0 min.","pos":868270,"val":0.271},{"series":"0 min.","pos":868930,"val":0.26},{"series":"0 min.","pos":869490,"val":0.253},{"series":"0 min.","pos":870380,"val":0.25},{"series":"0 min.","pos":870930,"val":0.232},{"series":"0 min.","pos":871490,"val":0.211},{"series":"0 min.","pos":872040,"val":0.197},{"series":"0 min.","pos":872930,"val":0.19},{"series":"0 min.","pos":873820,"val":0.179},{"series":"0 min.","pos":874710,"val":0.168},{"series":"0 min.","pos":875590,"val":0.154},{"series":"0 min.","pos":876260,"val":0.14},{"series":"0 min.","pos":877150,"val":0.126},{"series":"0 min.","pos":878040,"val":0.112},{"series":"0 min.","pos":878700,"val":0.108},{"series":"0 min.","pos":879590,"val":0.098},{"series":"0 min.","pos":880480,"val":0.087},{"series":"0 min.","pos":881370,"val":0.076},{"series":"0 min.","pos":882250,"val":0.066},{"series":"0 min.","pos":883140,"val":0.059},{"series":"0 min.","pos":883810,"val":0.055},{"series":"0 min.","pos":884250,"val":0.084},{"series":"0 min.","pos":884700,"val":0.108},{"series":"0 min.","pos":885360,"val":0.112},{"series":"0 min.","pos":885920,"val":0.105},{"series":"0 min.","pos":886690,"val":0.133},{"series":"0 min.","pos":887140,"val":0.126},{"series":"0 min.","pos":887580,"val":0.119},{"series":"0 min.","pos":888030,"val":0.161},{"series":"0 min.","pos":888580,"val":0.168},{"series":"0 min.","pos":888920,"val":0.246},{"series":"0 min.","pos":889360,"val":0.303},{"series":"0 min.","pos":889690,"val":0.313},{"series":"0 min.","pos":890250,"val":0.296},{"series":"0 min.","pos":890800,"val":0.278},{"series":"0 min.","pos":891360,"val":0.267},{"series":"0 min.","pos":891690,"val":0.303},{"series":"0 min.","pos":891910,"val":0.416},{"series":"0 min.","pos":892240,"val":0.427},{"series":"0 min.","pos":892900,"val":0.402},{"series":"0 min.","pos":893470,"val":0.384},{"series":"0 min.","pos":894020,"val":0.363},{"series":"0 min.","pos":894570,"val":0.338},{"series":"0 min.","pos":895130,"val":0.328},{"series":"0 min.","pos":895680,"val":0.324},{"series":"0 min.","pos":895910,"val":0.388},{"series":"0 min.","pos":896240,"val":0.487},{"series":"0 min.","pos":896570,"val":0.526},{"series":"0 min.","pos":897020,"val":0.505},{"series":"0 min.","pos":897460,"val":0.473},{"series":"0 min.","pos":898020,"val":0.452},{"series":"0 min.","pos":898460,"val":0.423},{"series":"0 min.","pos":898910,"val":0.395},{"series":"0 min.","pos":899460,"val":0.381},{"series":"0 min.","pos":900000,"val":0.377},
{"series":"1 min.","pos":840000,"val":0.575},{"series":"1 min.","pos":840800,"val":0.57},{"series":"1 min.","pos":841500,"val":0.55},{"series":"1 min.","pos":841950,"val":0.495},{"series":"1 min.","pos":842500,"val":0.56},{"series":"1 min.","pos":843000,"val":0.555},{"series":"1 min.","pos":844000,"val":0.54},{"series":"1 min.","pos":844700,"val":0.525},{"series":"1 min.","pos":845200,"val":0.5},{"series":"1 min.","pos":845700,"val":0.475},{"series":"1 min.","pos":846500,"val":0.465},{"series":"1 min.","pos":846850,"val":0.505},{"series":"1 min.","pos":847200,"val":0.528},{"series":"1 min.","pos":847400,"val":0.515},{"series":"1 min.","pos":847600,"val":0.72},{"series":"1 min.","pos":847850,"val":0.925},{"series":"1 min.","pos":848300,"val":0.94},{"series":"1 min.","pos":849000,"val":0.94},{"series":"1 min.","pos":849500,"val":0.93},{"series":"1 min.","pos":850400,"val":0.91},{"series":"1 min.","pos":851100,"val":0.907},{"series":"1 min.","pos":851600,"val":0.905},{"series":"1 min.","pos":851950,"val":0.915},{"series":"1 min.","pos":852400,"val":0.875},{"series":"1 min.","pos":853000,"val":0.84},{"series":"1 min.","pos":853800,"val":0.81},{"series":"1 min.","pos":854500,"val":0.785},{"series":"1 min.","pos":854900,"val":0.775},{"series":"1 min.","pos":855150,"val":0.768},{"series":"1 min.","pos":856490,"val":0.742},{"series":"1 min.","pos":858490,"val":0.708},{"series":"1 min.","pos":860490,"val":0.663},{"series":"1 min.","pos":861820,"val":0.608},{"series":"1 min.","pos":863270,"val":0.562},{"series":"1 min.","pos":863820,"val":0.585},{"series":"1 min.","pos":864930,"val":0.53},{"series":"1 min.","pos":865490,"val":0.45},{"series":"1 min.","pos":865930,"val":0.225},{"series":"1 min.","pos":866600,"val":0.257},{"series":"1 min.","pos":867600,"val":0.232},{"series":"1 min.","pos":868930,"val":0.218},{"series":"1 min.","pos":870150,"val":0.2},{"series":"1 min.","pos":871000,"val":0.185},{"series":"1 min.","pos":872000,"val":0.172},{"series":"1 min.","pos":874000,"val":0.155},{"series":"1 min.","pos":875500,"val":0.145},{"series":"1 min.","pos":876300,"val":0.135},{"series":"1 min.","pos":878000,"val":0.112},{"series":"1 min.","pos":880000,"val":0.094},{"series":"1 min.","pos":882000,"val":0.074},{"series":"1 min.","pos":883500,"val":0.065},{"series":"1 min.","pos":883900,"val":0.065},{"series":"1 min.","pos":884300,"val":0.09},{"series":"1 min.","pos":884700,"val":0.115},{"series":"1 min.","pos":885300,"val":0.113},{"series":"1 min.","pos":885900,"val":0.105},{"series":"1 min.","pos":886700,"val":0.142},{"series":"1 min.","pos":887200,"val":0.13},{"series":"1 min.","pos":887600,"val":0.125},{"series":"1 min.","pos":888000,"val":0.165},{"series":"1 min.","pos":888600,"val":0.17},{"series":"1 min.","pos":888950,"val":0.26},{"series":"1 min.","pos":889300,"val":0.315},{"series":"1 min.","pos":889650,"val":0.325},{"series":"1 min.","pos":890250,"val":0.3},{"series":"1 min.","pos":890800,"val":0.28},{"series":"1 min.","pos":891350,"val":0.268},{"series":"1 min.","pos":891700,"val":0.305},{"series":"1 min.","pos":891900,"val":0.415},{"series":"1 min.","pos":892250,"val":0.427},{"series":"1 min.","pos":892900,"val":0.4},{"series":"1 min.","pos":893500,"val":0.385},{"series":"1 min.","pos":894000,"val":0.36},{"series":"1 min.","pos":894600,"val":0.335},{"series":"1 min.","pos":895100,"val":0.325},{"series":"1 min.","pos":895650,"val":0.32},{"series":"1 min.","pos":895900,"val":0.39},{"series":"1 min.","pos":896250,"val":0.5},{"series":"1 min.","pos":896550,"val":0.548},{"series":"1 min.","pos":896900,"val":0.51},{"series":"1 min.","pos":897500,"val":0.49},{"series":"1 min.","pos":898000,"val":0.465},{"series":"1 min.","pos":898500,"val":0.43},{"series":"1 min.","pos":899000,"val":0.402},{"series":"1 min.","pos":899500,"val":0.393},{"series":"1 min.","pos":900000,"val":0.39},
{"series":"2 min.","pos":840000,"val":0.58},{"series":"2 min.","pos":840800,"val":0.578},{"series":"2 min.","pos":841500,"val":0.555},{"series":"2 min.","pos":841950,"val":0.5},{"series":"2 min.","pos":842500,"val":0.575},{"series":"2 min.","pos":843000,"val":0.572},{"series":"2 min.","pos":844000,"val":0.56},{"series":"2 min.","pos":844700,"val":0.54},{"series":"2 min.","pos":845200,"val":0.505},{"series":"2 min.","pos":845700,"val":0.478},{"series":"2 min.","pos":846500,"val":0.465},{"series":"2 min.","pos":846850,"val":0.505},{"series":"2 min.","pos":847200,"val":0.528},{"series":"2 min.","pos":847400,"val":0.515},{"series":"2 min.","pos":847600,"val":0.72},{"series":"2 min.","pos":847850,"val":0.935},{"series":"2 min.","pos":848300,"val":0.95},{"series":"2 min.","pos":849000,"val":0.948},{"series":"2 min.","pos":849500,"val":0.94},{"series":"2 min.","pos":850400,"val":0.925},{"series":"2 min.","pos":851100,"val":0.922},{"series":"2 min.","pos":851600,"val":0.915},{"series":"2 min.","pos":851950,"val":0.925},{"series":"2 min.","pos":852400,"val":0.87},{"series":"2 min.","pos":853000,"val":0.835},{"series":"2 min.","pos":853800,"val":0.805},{"series":"2 min.","pos":854500,"val":0.78},{"series":"2 min.","pos":854900,"val":0.73},{"series":"2 min.","pos":855150,"val":0.706},{"series":"2 min.","pos":856490,"val":0.671},{"series":"2 min.","pos":858490,"val":0.621},{"series":"2 min.","pos":860490,"val":0.565},{"series":"2 min.","pos":861820,"val":0.533},{"series":"2 min.","pos":863270,"val":0.48},{"series":"2 min.","pos":863820,"val":0.519},{"series":"2 min.","pos":864930,"val":0.466},{"series":"2 min.","pos":865490,"val":0.36},{"series":"2 min.","pos":865930,"val":0.282},{"series":"2 min.","pos":866600,"val":0.282},{"series":"2 min.","pos":867600,"val":0.26},{"series":"2 min.","pos":868930,"val":0.239},{"series":"2 min.","pos":870150,"val":0.215},{"series":"2 min.","pos":871000,"val":0.2},{"series":"2 min.","pos":872000,"val":0.185},{"series":"2 min.","pos":874000,"val":0.165},{"series":"2 min.","pos":875500,"val":0.152},{"series":"2 min.","pos":876300,"val":0.14},{"series":"2 min.","pos":878000,"val":0.115},{"series":"2 min.","pos":880000,"val":0.097},{"series":"2 min.","pos":882000,"val":0.077},{"series":"2 min.","pos":883500,"val":0.07},{"series":"2 min.","pos":883900,"val":0.07},{"series":"2 min.","pos":884300,"val":0.1},{"series":"2 min.","pos":884700,"val":0.125},{"series":"2 min.","pos":885300,"val":0.128},{"series":"2 min.","pos":885900,"val":0.11},{"series":"2 min.","pos":886700,"val":0.135},{"series":"2 min.","pos":887200,"val":0.127},{"series":"2 min.","pos":887600,"val":0.105},{"series":"2 min.","pos":888000,"val":0.15},{"series":"2 min.","pos":888600,"val":0.168},{"series":"2 min.","pos":888950,"val":0.25},{"series":"2 min.","pos":889300,"val":0.305},{"series":"2 min.","pos":889650,"val":0.315},{"series":"2 min.","pos":890250,"val":0.295},{"series":"2 min.","pos":890800,"val":0.278},{"series":"2 min.","pos":891350,"val":0.265},{"series":"2 min.","pos":891700,"val":0.3},{"series":"2 min.","pos":891900,"val":0.41},{"series":"2 min.","pos":892250,"val":0.425},{"series":"2 min.","pos":892900,"val":0.4},{"series":"2 min.","pos":893500,"val":0.385},{"series":"2 min.","pos":894000,"val":0.365},{"series":"2 min.","pos":894600,"val":0.34},{"series":"2 min.","pos":895100,"val":0.33},{"series":"2 min.","pos":895650,"val":0.325},{"series":"2 min.","pos":895900,"val":0.39},{"series":"2 min.","pos":896250,"val":0.49},{"series":"2 min.","pos":896550,"val":0.52},{"series":"2 min.","pos":896900,"val":0.46},{"series":"2 min.","pos":897500,"val":0.435},{"series":"2 min.","pos":898000,"val":0.41},{"series":"2 min.","pos":898500,"val":0.375},{"series":"2 min.","pos":899000,"val":0.345},{"series":"2 min.","pos":899500,"val":0.335},{"series":"2 min.","pos":900000,"val":0.324},
{"series":"3 min.","pos":840000,"val":0.585},{"series":"3 min.","pos":840800,"val":0.58},{"series":"3 min.","pos":841500,"val":0.555},{"series":"3 min.","pos":841950,"val":0.5},{"series":"3 min.","pos":842500,"val":0.57},{"series":"3 min.","pos":843000,"val":0.565},{"series":"3 min.","pos":844000,"val":0.55},{"series":"3 min.","pos":844700,"val":0.53},{"series":"3 min.","pos":845200,"val":0.5},{"series":"3 min.","pos":845700,"val":0.475},{"series":"3 min.","pos":846500,"val":0.465},{"series":"3 min.","pos":846850,"val":0.505},{"series":"3 min.","pos":847200,"val":0.535},{"series":"3 min.","pos":847400,"val":0.52},{"series":"3 min.","pos":847600,"val":0.72},{"series":"3 min.","pos":847850,"val":0.925},{"series":"3 min.","pos":848300,"val":0.94},{"series":"3 min.","pos":849000,"val":0.94},{"series":"3 min.","pos":849500,"val":0.93},{"series":"3 min.","pos":850400,"val":0.91},{"series":"3 min.","pos":851100,"val":0.906},{"series":"3 min.","pos":851600,"val":0.905},{"series":"3 min.","pos":851950,"val":0.915},{"series":"3 min.","pos":852400,"val":0.878},{"series":"3 min.","pos":853000,"val":0.845},{"series":"3 min.","pos":853800,"val":0.815},{"series":"3 min.","pos":854500,"val":0.79},{"series":"3 min.","pos":854900,"val":0.75},{"series":"3 min.","pos":855150,"val":0.728},{"series":"3 min.","pos":856490,"val":0.689},{"series":"3 min.","pos":858490,"val":0.643},{"series":"3 min.","pos":860490,"val":0.586},{"series":"3 min.","pos":861820,"val":0.522},{"series":"3 min.","pos":863270,"val":0.459},{"series":"3 min.","pos":863820,"val":0.494},{"series":"3 min.","pos":864930,"val":0.448},{"series":"3 min.","pos":865490,"val":0.35},{"series":"3 min.","pos":865930,"val":0.253},{"series":"3 min.","pos":866600,"val":0.268},{"series":"3 min.","pos":867600,"val":0.25},{"series":"3 min.","pos":868930,"val":0.225},{"series":"3 min.","pos":870150,"val":0.186},{"series":"3 min.","pos":871000,"val":0.18},{"series":"3 min.","pos":872000,"val":0.172},{"series":"3 min.","pos":874000,"val":0.16},{"series":"3 min.","pos":875500,"val":0.15},{"series":"3 min.","pos":876300,"val":0.136},{"series":"3 min.","pos":878000,"val":0.113},{"series":"3 min.","pos":880000,"val":0.095},{"series":"3 min.","pos":882000,"val":0.075},{"series":"3 min.","pos":883500,"val":0.068},{"series":"3 min.","pos":883900,"val":0.066},{"series":"3 min.","pos":884300,"val":0.11},{"series":"3 min.","pos":884700,"val":0.125},{"series":"3 min.","pos":885300,"val":0.122},{"series":"3 min.","pos":885900,"val":0.1},{"series":"3 min.","pos":886700,"val":0.135},{"series":"3 min.","pos":887200,"val":0.13},{"series":"3 min.","pos":887600,"val":0.11},{"series":"3 min.","pos":888000,"val":0.155},{"series":"3 min.","pos":888600,"val":0.168},{"series":"3 min.","pos":888950,"val":0.25},{"series":"3 min.","pos":889300,"val":0.29},{"series":"3 min.","pos":889650,"val":0.298},{"series":"3 min.","pos":890250,"val":0.275},{"series":"3 min.","pos":890800,"val":0.262},{"series":"3 min.","pos":891350,"val":0.243},{"series":"3 min.","pos":891700,"val":0.285},{"series":"3 min.","pos":891900,"val":0.39},{"series":"3 min.","pos":892250,"val":0.402},{"series":"3 min.","pos":892900,"val":0.385},{"series":"3 min.","pos":893500,"val":0.37},{"series":"3 min.","pos":894000,"val":0.345},{"series":"3 min.","pos":894600,"val":0.325},{"series":"3 min.","pos":895100,"val":0.315},{"series":"3 min.","pos":895650,"val":0.31},{"series":"3 min.","pos":895900,"val":0.38},{"series":"3 min.","pos":896250,"val":0.49},{"series":"3 min.","pos":896550,"val":0.52},{"series":"3 min.","pos":896900,"val":0.485},{"series":"3 min.","pos":897500,"val":0.46},{"series":"3 min.","pos":898000,"val":0.435},{"series":"3 min.","pos":898500,"val":0.4},{"series":"3 min.","pos":899000,"val":0.375},{"series":"3 min.","pos":899500,"val":0.36},{"series":"3 min.","pos":900000,"val":0.356},
{"series":"4 min.","pos":840000,"val":0.578},{"series":"4 min.","pos":840800,"val":0.575},{"series":"4 min.","pos":841500,"val":0.55},{"series":"4 min.","pos":841950,"val":0.495},{"series":"4 min.","pos":842500,"val":0.565},{"series":"4 min.","pos":843000,"val":0.562},{"series":"4 min.","pos":844000,"val":0.55},{"series":"4 min.","pos":844700,"val":0.53},{"series":"4 min.","pos":845200,"val":0.5},{"series":"4 min.","pos":845700,"val":0.475},{"series":"4 min.","pos":846500,"val":0.462},{"series":"4 min.","pos":846850,"val":0.503},{"series":"4 min.","pos":847200,"val":0.528},{"series":"4 min.","pos":847400,"val":0.515},{"series":"4 min.","pos":847600,"val":0.72},{"series":"4 min.","pos":847850,"val":0.925},{"series":"4 min.","pos":848300,"val":0.938},{"series":"4 min.","pos":849000,"val":0.938},{"series":"4 min.","pos":849500,"val":0.93},{"series":"4 min.","pos":850400,"val":0.91},{"series":"4 min.","pos":851100,"val":0.906},{"series":"4 min.","pos":851600,"val":0.904},{"series":"4 min.","pos":851950,"val":0.915},{"series":"4 min.","pos":852400,"val":0.875},{"series":"4 min.","pos":853000,"val":0.84},{"series":"4 min.","pos":853800,"val":0.805},{"series":"4 min.","pos":854500,"val":0.78},{"series":"4 min.","pos":854900,"val":0.72},{"series":"4 min.","pos":855150,"val":0.695},{"series":"4 min.","pos":856490,"val":0.639},{"series":"4 min.","pos":858490,"val":0.58},{"series":"4 min.","pos":860490,"val":0.522},{"series":"4 min.","pos":861820,"val":0.473},{"series":"4 min.","pos":863270,"val":0.398},{"series":"4 min.","pos":863820,"val":0.452},{"series":"4 min.","pos":864930,"val":0.395},{"series":"4 min.","pos":865490,"val":0.33},{"series":"4 min.","pos":865930,"val":0.239},{"series":"4 min.","pos":866600,"val":0.268},{"series":"4 min.","pos":867600,"val":0.243},{"series":"4 min.","pos":868930,"val":0.211},{"series":"4 min.","pos":870150,"val":0.195},{"series":"4 min.","pos":871000,"val":0.185},{"series":"4 min.","pos":872000,"val":0.177},{"series":"4 min.","pos":874000,"val":0.165},{"series":"4 min.","pos":875500,"val":0.153},{"series":"4 min.","pos":876300,"val":0.14},{"series":"4 min.","pos":878000,"val":0.118},{"series":"4 min.","pos":880000,"val":0.1},{"series":"4 min.","pos":882000,"val":0.082},{"series":"4 min.","pos":883500,"val":0.076},{"series":"4 min.","pos":883900,"val":0.075},{"series":"4 min.","pos":884300,"val":0.1},{"series":"4 min.","pos":884700,"val":0.115},{"series":"4 min.","pos":885300,"val":0.115},{"series":"4 min.","pos":885900,"val":0.105},{"series":"4 min.","pos":886700,"val":0.13},{"series":"4 min.","pos":887200,"val":0.115},{"series":"4 min.","pos":887600,"val":0.1},{"series":"4 min.","pos":888000,"val":0.14},{"series":"4 min.","pos":888600,"val":0.165},{"series":"4 min.","pos":888950,"val":0.25},{"series":"4 min.","pos":889300,"val":0.305},{"series":"4 min.","pos":889650,"val":0.315},{"series":"4 min.","pos":890250,"val":0.295},{"series":"4 min.","pos":890800,"val":0.278},{"series":"4 min.","pos":891350,"val":0.265},{"series":"4 min.","pos":891700,"val":0.305},{"series":"4 min.","pos":891900,"val":0.42},{"series":"4 min.","pos":892250,"val":0.437},{"series":"4 min.","pos":892900,"val":0.41},{"series":"4 min.","pos":893500,"val":0.395},{"series":"4 min.","pos":894000,"val":0.37},{"series":"4 min.","pos":894600,"val":0.355},{"series":"4 min.","pos":895100,"val":0.345},{"series":"4 min.","pos":895650,"val":0.335},{"series":"4 min.","pos":895900,"val":0.39},{"series":"4 min.","pos":896250,"val":0.49},{"series":"4 min.","pos":896550,"val":0.52},{"series":"4 min.","pos":896900,"val":0.49},{"series":"4 min.","pos":897500,"val":0.46},{"series":"4 min.","pos":898000,"val":0.435},{"series":"4 min.","pos":898500,"val":0.4},{"series":"4 min.","pos":899000,"val":0.375},{"series":"4 min.","pos":899500,"val":0.36},{"series":"4 min.","pos":900000,"val":0.355},
{"series":"5 min.","pos":840000,"val":0.568},{"series":"5 min.","pos":840800,"val":0.565},{"series":"5 min.","pos":841500,"val":0.545},{"series":"5 min.","pos":841950,"val":0.48},{"series":"5 min.","pos":842500,"val":0.555},{"series":"5 min.","pos":843000,"val":0.55},{"series":"5 min.","pos":844000,"val":0.54},{"series":"5 min.","pos":844700,"val":0.525},{"series":"5 min.","pos":845200,"val":0.5},{"series":"5 min.","pos":845700,"val":0.475},{"series":"5 min.","pos":846500,"val":0.462},{"series":"5 min.","pos":846850,"val":0.503},{"series":"5 min.","pos":847200,"val":0.528},{"series":"5 min.","pos":847400,"val":0.515},{"series":"5 min.","pos":847600,"val":0.72},{"series":"5 min.","pos":847850,"val":0.925},{"series":"5 min.","pos":848300,"val":0.938},{"series":"5 min.","pos":849000,"val":0.938},{"series":"5 min.","pos":849500,"val":0.93},{"series":"5 min.","pos":850400,"val":0.91},{"series":"5 min.","pos":851100,"val":0.906},{"series":"5 min.","pos":851600,"val":0.904},{"series":"5 min.","pos":851950,"val":0.915},{"series":"5 min.","pos":852400,"val":0.875},{"series":"5 min.","pos":853000,"val":0.84},{"series":"5 min.","pos":853800,"val":0.805},{"series":"5 min.","pos":854500,"val":0.78},{"series":"5 min.","pos":854900,"val":0.73},{"series":"5 min.","pos":855150,"val":0.7},{"series":"5 min.","pos":856490,"val":0.643},{"series":"5 min.","pos":858490,"val":0.579},{"series":"5 min.","pos":860490,"val":0.512},{"series":"5 min.","pos":861820,"val":0.452},{"series":"5 min.","pos":863270,"val":0.381},{"series":"5 min.","pos":863820,"val":0.405},{"series":"5 min.","pos":864930,"val":0.36},{"series":"5 min.","pos":865490,"val":0.31},{"series":"5 min.","pos":865930,"val":0.2},{"series":"5 min.","pos":866600,"val":0.236},{"series":"5 min.","pos":867600,"val":0.214},{"series":"5 min.","pos":868930,"val":0.204},{"series":"5 min.","pos":870150,"val":0.19},{"series":"5 min.","pos":871000,"val":0.18},{"series":"5 min.","pos":872000,"val":0.175},{"series":"5 min.","pos":874000,"val":0.16},{"series":"5 min.","pos":875500,"val":0.148},{"series":"5 min.","pos":876300,"val":0.137},{"series":"5 min.","pos":878000,"val":0.113},{"series":"5 min.","pos":880000,"val":0.093},{"series":"5 min.","pos":882000,"val":0.072},{"series":"5 min.","pos":883500,"val":0.067},{"series":"5 min.","pos":883900,"val":0.066},{"series":"5 min.","pos":884300,"val":0.11},{"series":"5 min.","pos":884700,"val":0.122},{"series":"5 min.","pos":885300,"val":0.118},{"series":"5 min.","pos":885900,"val":0.103},{"series":"5 min.","pos":886700,"val":0.13},{"series":"5 min.","pos":887200,"val":0.112},{"series":"5 min.","pos":887600,"val":0.1},{"series":"5 min.","pos":888000,"val":0.145},{"series":"5 min.","pos":888600,"val":0.165},{"series":"5 min.","pos":888950,"val":0.25},{"series":"5 min.","pos":889300,"val":0.3},{"series":"5 min.","pos":889650,"val":0.31},{"series":"5 min.","pos":890250,"val":0.29},{"series":"5 min.","pos":890800,"val":0.275},{"series":"5 min.","pos":891350,"val":0.262},{"series":"5 min.","pos":891700,"val":0.3},{"series":"5 min.","pos":891900,"val":0.41},{"series":"5 min.","pos":892250,"val":0.43},{"series":"5 min.","pos":892900,"val":0.405},{"series":"5 min.","pos":893500,"val":0.39},{"series":"5 min.","pos":894000,"val":0.365},{"series":"5 min.","pos":894600,"val":0.345},{"series":"5 min.","pos":895100,"val":0.335},{"series":"5 min.","pos":895650,"val":0.33},{"series":"5 min.","pos":895900,"val":0.385},{"series":"5 min.","pos":896250,"val":0.49},{"series":"5 min.","pos":896550,"val":0.52},{"series":"5 min.","pos":896900,"val":0.49},{"series":"5 min.","pos":897500,"val":0.465},{"series":"5 min.","pos":898000,"val":0.44},{"series":"5 min.","pos":898500,"val":0.41},{"series":"5 min.","pos":899000,"val":0.385},{"series":"5 min.","pos":899500,"val":0.37},{"series":"5 min.","pos":900000,"val":0.36}
],
"ed": [
{"series":"obs","delay":0,"dist":1.545},{"series":"obs","delay":1,"dist":1.679},{"series":"obs","delay":2,"dist":1.736},{"series":"obs","delay":3,"dist":1.751},{"series":"obs","delay":4,"dist":1.929},{"series":"obs","delay":5,"dist":2.023},{"series":"obs","delay":6,"dist":1.946},{"series":"obs","delay":7,"dist":2.195},{"series":"obs","delay":8,"dist":2.324},{"series":"obs","delay":9,"dist":2.517},{"series":"obs","delay":10,"dist":2.583},{"series":"obs","delay":11,"dist":2.66},{"series":"obs","delay":12,"dist":2.884},{"series":"obs","delay":13,"dist":2.906},{"series":"obs","delay":14,"dist":3.051},{"series":"obs","delay":15,"dist":3.082},{"series":"obs","delay":16,"dist":3.211},{"series":"obs","delay":17,"dist":3.276},{"series":"obs","delay":18,"dist":3.271},{"series":"obs","delay":19,"dist":3.293},{"series":"obs","delay":20,"dist":3.388},{"series":"obs","delay":21,"dist":3.383},{"series":"obs","delay":22,"dist":3.357},{"series":"obs","delay":23,"dist":3.457},{"series":"obs","delay":24,"dist":3.404},{"series":"obs","delay":25,"dist":3.517},{"series":"obs","delay":26,"dist":3.4},{"series":"obs","delay":27,"dist":3.576},{"series":"obs","delay":28,"dist":3.526},{"series":"obs","delay":29,"dist":3.615},{"series":"obs","delay":30,"dist":3.55},
{"series":"fit","delay":0,"dist":1.545},{"series":"fit","delay":1,"dist":1.636},{"series":"fit","delay":2,"dist":1.739},{"series":"fit","delay":3,"dist":1.834},{"series":"fit","delay":4,"dist":1.925},{"series":"fit","delay":5,"dist":2.023},{"series":"fit","delay":6,"dist":2.127},{"series":"fit","delay":7,"dist":2.245},{"series":"fit","delay":8,"dist":2.359},{"series":"fit","delay":9,"dist":2.475},{"series":"fit","delay":10,"dist":2.583},{"series":"fit","delay":11,"dist":2.685},{"series":"fit","delay":12,"dist":2.798},{"series":"fit","delay":13,"dist":2.901},{"series":"fit","delay":14,"dist":2.991},{"series":"fit","delay":15,"dist":3.073},{"series":"fit","delay":16,"dist":3.145},{"series":"fit","delay":17,"dist":3.211},{"series":"fit","delay":18,"dist":3.271},{"series":"fit","delay":19,"dist":3.314},{"series":"fit","delay":20,"dist":3.357},{"series":"fit","delay":21,"dist":3.39},{"series":"fit","delay":22,"dist":3.421},{"series":"fit","delay":23,"dist":3.443},{"series":"fit","delay":24,"dist":3.464},{"series":"fit","delay":25,"dist":3.482},{"series":"fit","delay":26,"dist":3.5},{"series":"fit","delay":27,"dist":3.517},{"series":"fit","delay":28,"dist":3.534},{"series":"fit","delay":29,"dist":3.55},{"series":"fit","delay":30,"dist":3.567}
]
},
"bounds": "flush",
"spacing": 0,
"resolve": {"scale": {"color": "independent"}},
"vconcat": [
 {
  "width": 905, "height": 535.5,
  "data": {"name": "wA"},
  "title": {"text": "A", "dx": -178, "dy": 23},
  "encoding": {
   "x": {"field": "pos", "type": "quantitative", "scale": {"domain": [840000, 900000], "nice": false, "zero": false}, "axis": {"title": "Position ChII (bp)", "values": [840000, 850000, 860000, 870000, 880000, 890000, 900000], "format": "d", "titleX": 481, "titleY": 74}},
   "y": {"field": "val", "type": "quantitative", "scale": {"domain": [-0.024, 1.015], "nice": false, "zero": false}, "axis": {"title": "Polδ in Watson strand", "values": [0, 0.2, 0.4, 0.6, 0.8, 1.0], "format": ".1f", "titleX": -117, "titleY": 311}},
   "color": {"field": "series", "type": "nominal", "scale": {"domain": ["Exp. data", "0 min.", "1 min.", "2 min.", "3 min.", "4 min.", "5 min."], "range": ["#231f20", "#1f77b4", "#ff7f0e", "#2ca02c", "#d62728", "#9467bd", "#8c564b"]}, "legend": {"title": null, "legendX": 346, "legendY": 311, "symbolSize": 3364, "symbolOffset": 18, "labelOffset": 35.5, "rowPadding": 6.6, "encode": {"symbols": {"update": {"strokeWidth": {"signal": "datum.value === 'Exp. data' || datum.value === '0 min.' ? 6.5 : 3"}}}, "legend": {"update": {"strokeWidth": {"value": 2}}}}}}
  },
  "layer": [
   {"transform": [{"filter": {"field": "series", "oneOf": ["1 min.", "2 min.", "3 min.", "4 min.", "5 min."]}}], "mark": {"type": "line", "strokeWidth": 3, "strokeJoin": "round"}},
   {"transform": [{"filter": {"field": "series", "equal": "Exp. data"}}], "mark": {"type": "line", "strokeWidth": 6.5, "strokeJoin": "round"}},
   {"transform": [{"filter": {"field": "series", "equal": "0 min."}}], "mark": {"type": "line", "strokeWidth": 6.5, "strokeJoin": "round"}}
  ]
 },
 {
  "width": 905, "height": 146.5,
  "data": {"values": []},
  "view": {"stroke": null},
  "mark": {"type": "point", "opacity": 0},
  "encoding": {}
 },
 {
  "width": 905, "height": 511,
  "data": {"name": "cB"},
  "title": {"text": "B", "dx": -189, "dy": 21},
  "encoding": {
   "x": {"field": "pos", "type": "quantitative", "scale": {"domain": [840000, 900000], "nice": false, "zero": false}, "axis": {"title": "Position ChII (bp)", "values": [840000, 850000, 860000, 870000, 880000, 890000, 900000], "format": "d", "titleX": 482, "titleY": 73.5}},
   "y": {"field": "val", "type": "quantitative", "scale": {"domain": [-0.044, 1.0255], "nice": false, "zero": false}, "axis": {"title": "Polδ in Crick strand", "values": [0, 0.2, 0.4, 0.6, 0.8, 1.0], "format": ".1f", "titleX": -116, "titleY": 277}},
   "color": {"field": "series", "type": "nominal", "scale": {"domain": ["Exp. data", "0 min.", "1 min.", "2 min.", "3 min.", "4 min.", "5 min."], "range": ["#231f20", "#1f77b4", "#ff7f0e", "#2ca02c", "#d62728", "#9467bd", "#8c564b"]}, "legend": {"title": null, "legendX": 17.6, "legendY": 298.8, "symbolSize": 3136, "symbolOffset": 16.4, "labelOffset": 36, "rowPadding": 5.1, "encode": {"symbols": {"update": {"strokeWidth": {"signal": "datum.value === 'Exp. data' || datum.value === '0 min.' ? 6.5 : 3"}}}, "legend": {"update": {"strokeWidth": {"value": 2}}}}}}
  },
  "layer": [
   {"transform": [{"filter": {"field": "series", "oneOf": ["1 min.", "2 min.", "3 min.", "4 min.", "5 min."]}}], "mark": {"type": "line", "strokeWidth": 3, "strokeJoin": "round"}},
   {"transform": [{"filter": {"field": "series", "equal": "Exp. data"}}], "mark": {"type": "line", "strokeWidth": 6.5, "strokeJoin": "round"}},
   {"transform": [{"filter": {"field": "series", "equal": "0 min."}}], "mark": {"type": "line", "strokeWidth": 6.5, "strokeJoin": "round"}}
  ]
 },
 {
  "width": 905, "height": 158,
  "data": {"values": []},
  "view": {"stroke": null},
  "mark": {"type": "point", "opacity": 0},
  "encoding": {}
 },
 {
  "width": 905.5, "height": 542.5,
  "data": {"name": "ed"},
  "title": {"text": "C", "dx": -187, "dy": 24},
  "encoding": {
   "x": {"field": "delay", "type": "quantitative", "scale": {"domain": [-1.5, 31.5], "nice": false, "zero": false}, "axis": {"title": "delay (min)", "values": [0, 5, 10, 15, 20, 25, 30], "format": "d", "titleX": 445, "titleY": 74}},
   "y": {"field": "dist", "type": "quantitative", "scale": {"domain": [1.443, 3.717], "nice": false, "zero": false}, "axis": {"title": "Euclidean distance", "values": [1.5, 2.0, 2.5, 3.0, 3.5], "format": ".1f", "labelPadding": 11, "titleX": -117, "titleY": 293}}
  },
  "layer": [
   {"transform": [{"filter": {"field": "series", "equal": "obs"}}], "mark": {"type": "line", "strokeWidth": 3.5, "color": "#1f77b4", "strokeJoin": "round"}},
   {"transform": [{"filter": {"field": "series", "equal": "fit"}}], "mark": {"type": "line", "strokeWidth": 3.5, "color": "#ff7f0e", "strokeJoin": "round"}}
  ]
 }
]
}
